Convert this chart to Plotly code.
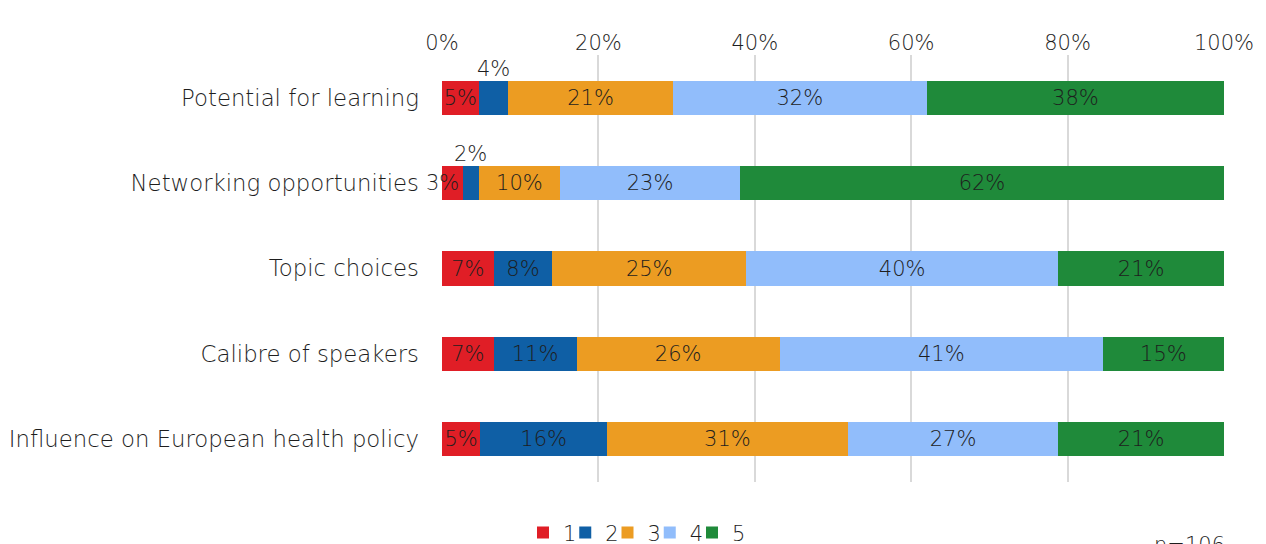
import plotly.graph_objects as go

categories = ["Potential for learning", "Networking opportunities", "Topic choices",
              "Calibre of speakers", "Influence on European health policy"]
series_names = ["1", "2", "3", "4", "5"]
values = {
    "1": [4.7, 2.7, 6.6, 6.6, 4.9],
    "2": [3.8, 2.0, 7.5, 10.6, 16.2],
    "3": [21.0, 10.4, 24.8, 26.0, 30.8],
    "4": [32.5, 23.0, 39.9, 41.3, 26.9],
    "5": [38.0, 61.9, 21.2, 15.5, 21.2],
}
labels = {
    "1": ["5%", "3%", "7%", "7%", "5%"],
    "2": ["4%", "2%", "8%", "11%", "16%"],
    "3": ["21%", "10%", "25%", "26%", "31%"],
    "4": ["32%", "23%", "40%", "41%", "27%"],
    "5": ["38%", "62%", "21%", "15%", "21%"],
}
colors = {"1": "#E01E26", "2": "#0F5FA5", "3": "#EC9C22", "4": "#91BDFB", "5": "#1F8A3A"}
x_ticks = [0, 20, 40, 60, 80, 100]
x_tick_text = ["0%", "20%", "40%", "60%", "80%", "100%"]
note = "n=106"

FONT = "DejaVu Sans"
W = 200
TXT = "#1E1E1E"
LBL = 21

# layout geometry (pixels in figure coordinates)
ML, MR, MT, MB = 434, 50, 47, 70
FIG_W, FIG_H = 1266, 544
PLOT_W = FIG_W - ML - MR
LEG_LEFT0 = 515      # left edge of first legend entry
LEG_STEP = 42.25     # spacing between legend entries

fig = go.Figure()
cum = [0.0] * len(categories)
above = []   # tiny segments labelled above the bar
edge = []    # tiny first segments labelled at the bar start
for k, s in enumerate(series_names):
    texts = []
    for i, c in enumerate(categories):
        v = values[s][i]
        if s == "2" and v < 5:
            texts.append("")
            above.append((cum[i] + v / 2, c, labels[s][i]))
        elif s == "1" and v < 3:
            texts.append("")
            edge.append((cum[i], c, labels[s][i]))
        else:
            texts.append(labels[s][i])
        cum[i] += v
    leg_id = "legend" if k == 0 else f"legend{k + 1}"
    fig.add_trace(go.Bar(
        y=categories, x=values[s], name=s, orientation="h",
        marker=dict(color=colors[s], line=dict(width=0)),
        text=texts, textposition="inside", insidetextanchor="middle",
        constraintext="none", textangle=0,
        textfont=dict(family=FONT, size=LBL, color=TXT, weight=W),
        width=0.4, hoverinfo="skip", legend=leg_id,
    ))
    leg = dict(orientation="h", x=(LEG_LEFT0 + LEG_STEP * k - ML) / PLOT_W, xanchor="left",
               y=-0.119, yanchor="middle",
               font=dict(family=FONT, size=21, color=TXT, weight=W),
               itemwidth=30, entrywidth=20, entrywidthmode="pixels",
               bgcolor="rgba(0,0,0,0)")
    fig.update_layout({leg_id: leg})

for xc, c, lab in above:
    fig.add_annotation(x=xc, y=c, xref="x", yref="y", text=lab, showarrow=False,
                       yshift=29, font=dict(family=FONT, size=LBL, color=TXT, weight=W))
for xc, c, lab in edge:
    fig.add_annotation(x=xc, y=c, xref="x", yref="y", text=lab, showarrow=False,
                       xanchor="center", font=dict(family=FONT, size=LBL, color=TXT, weight=W))

fig.add_annotation(x=0.9565, y=-0.115, xref="paper", yref="paper", text=note, showarrow=False,
                   xanchor="center", yanchor="top",
                   font=dict(family=FONT, size=21, color=TXT, weight=W))

fig.update_layout(
    barmode="stack",
    width=FIG_W, height=FIG_H,
    margin=dict(l=ML, r=MR, t=MT, b=MB, autoexpand=False),
    paper_bgcolor="white", plot_bgcolor="white",
    font=dict(family=FONT, size=21, color=TXT, weight=W),
    showlegend=True,
)
fig.update_xaxes(side="top", range=[0, 100], tickvals=x_ticks, ticktext=x_tick_text,
                 showgrid=True, gridcolor="#D9D9D9", gridwidth=1.5, zeroline=False,
                 showline=False, ticks="", automargin=False,
                 tickfont=dict(family=FONT, size=21, color=TXT, weight=W))
fig.update_yaxes(categoryorder="array", categoryarray=categories, autorange="reversed",
                 showgrid=False, showline=False, ticks="", ticklabelstandoff=22,
                 automargin=False,
                 tickfont=dict(family=FONT, size=22.8, color=TXT, weight=W))

fig.write_html("out.html")
